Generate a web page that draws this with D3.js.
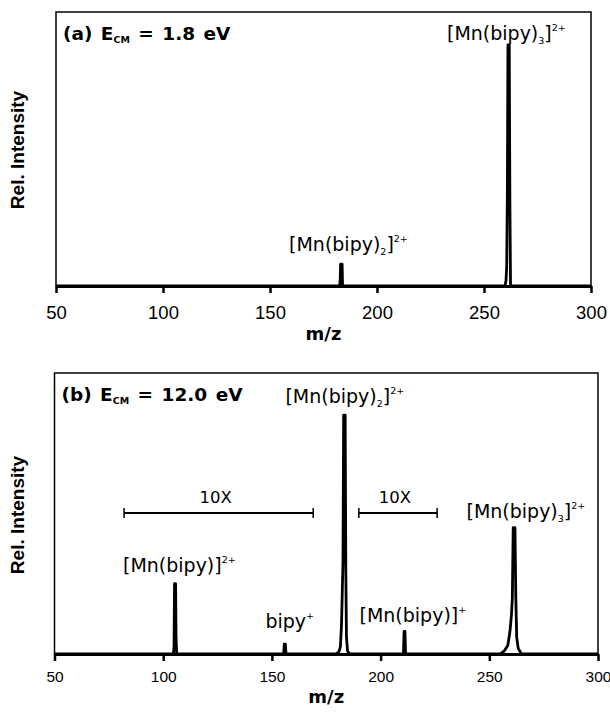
<!DOCTYPE html>
<html>
<head>
<meta charset="utf-8">
<script src="https://cdn.jsdelivr.net/npm/d3@7"></script>
<style>
  body { margin: 0; background: #fff; }
  svg { display: block; }
</style>
</head>
<body>
<svg id="chart" width="610" height="717"></svg>
<script>
// m/z ticks shared by both panels
const mzTicks = [50, 100, 150, 200, 250, 300];

// spectrum (a), E_CM = 1.8 eV : [m/z, rel. intensity %]
const spectrumA = [
  [50, 0], [182.5, 0], [182.8, 2], [183.0, 8], [183.7, 8], [183.9, 0],
  [259.8, 0], [260.3, 2], [260.6, 7], [260.9, 32], [261.2, 88], [261.8, 88],
  [262.1, 30], [262.4, 0], [300, 0]
];

// spectrum (b), E_CM = 12.0 eV
const spectrumB = [
  [50, 0], [104.7, 0], [105.0, 3], [105.2, 25], [105.7, 25], [105.9, 6], [106.2, 0],
  [155.4, 0], [155.7, 3.5], [156.2, 3.5], [156.5, 0],
  [179.5, 0], [180.8, 0.8], [181.5, 2.5], [182.0, 10], [182.4, 23], [182.7, 33],
  [183.0, 85], [183.7, 85], [184.0, 30], [184.3, 6], [184.8, 1], [185.8, 0],
  [210.5, 0], [210.8, 8], [211.2, 8], [211.5, 0],
  [255, 0], [256.8, 1], [258.5, 3], [259.5, 8], [260.2, 14], [260.6, 20],
  [261.0, 45], [261.8, 45], [262.2, 20], [262.6, 6], [263.3, 2], [264.8, 0],
  [300, 0]
];

// peak labels: text pieces + anchor (left m/z, baseline intensity)
const labelsA = [
  {base: "[Mn(bipy)", sub: "3", tail: "]", sup: "2+", mz: 232.7, level: 89.7},
  {base: "[Mn(bipy)", sub: "2", tail: "]", sup: "2+", mz: 158.9, level: 12.8}
];
const labelsB = [
  {base: "[Mn(bipy)", sub: "2", tail: "]", sup: "2+", mz: 156.2, level: 89.3},
  {base: "[Mn(bipy)", sub: "3", tail: "]", sup: "2+", mz: 239.5, level: 48.4},
  {base: "[Mn(bipy)]", sub: "", tail: "", sup: "2+", mz: 81.5, level: 29.2},
  {base: "bipy", sub: "", tail: "", sup: "+", mz: 147, level: 9.3},
  {base: "[Mn(bipy)]", sub: "", tail: "", sup: "+", mz: 190.3, level: 11.4}
];

// "10X" magnification ranges in panel (b)
const zoomRanges = [
  {from: 82, to: 169, level: 50.2, text: "10X"},
  {from: 190, to: 226, level: 50.2, text: "10X"}
];

const panelTitles = [
  {lead: "(a) E", sub: "CM", rest: " = 1.8 eV"},
  {lead: "(b) E", sub: "CM", rest: " = 12.0 eV"}
];

const svg = d3.select("#chart");

// panel geometry
const panels = [
  {left: 56, right: 591, top: 12, bottom: 286, tickFont: 18.5, tickPad: 13,
   xLabelY: 340, yLabelY: 150, data: spectrumA, labels: labelsA, title: panelTitles[0]},
  {left: 54.5, right: 598, top: 373, bottom: 654, tickFont: 15.5, tickPad: 10,
   xLabelY: 703, yLabelY: 515, data: spectrumB, labels: labelsB, title: panelTitles[1]}
];

const labelFont = "'DejaVu Sans', sans-serif";
const boldFont = "'DejaVu Sans', sans-serif";

panels.forEach((p, idx) => {
  let x = d3.scaleLinear().domain([50, 300]).range([p.left, p.right]);
  let y = d3.scaleLinear().domain([0, 100]).range([p.bottom, p.top]);

  let g = svg.append("g");

  // frame
  g.append("rect")
    .attr("x", p.left).attr("y", p.top)
    .attr("width", p.right - p.left).attr("height", p.bottom - p.top)
    .attr("fill", "none").attr("stroke", "#000").attr("stroke-width", 1.5);

  // x axis
  let axis = g.append("g")
    .attr("transform", `translate(0,${p.bottom})`)
    .call(d3.axisBottom(x).tickValues(mzTicks).tickSize(7).tickSizeOuter(0).tickPadding(p.tickPad));
  axis.select(".domain").attr("stroke-width", 3);
  axis.selectAll(".tick line").attr("stroke-width", 2.5);
  axis.selectAll(".tick text")
    .attr("font-family", "'Liberation Sans', Arial, sans-serif")
    .attr("font-size", p.tickFont)
    .attr("fill", "#000");

  // spectrum
  let line = d3.line().x(d => x(d[0])).y(d => y(d[1]));
  g.append("path")
    .attr("d", line(p.data))
    .attr("fill", "none").attr("stroke", "#000")
    .attr("stroke-width", 2.8).attr("stroke-linejoin", "round");

  // axis titles
  g.append("text")
    .attr("x", (p.left + p.right) / 2).attr("y", p.xLabelY)
    .attr("text-anchor", "middle")
    .attr("font-family", boldFont).attr("font-weight", "bold").attr("font-size", 18)
    .text("m/z");

  g.append("text")
    .attr("transform", `translate(24,${p.yLabelY}) rotate(-90)`)
    .attr("text-anchor", "middle")
    .attr("font-family", "'Liberation Sans', Arial, sans-serif").attr("font-weight", "bold").attr("font-size", 19)
    .text("Rel. Intensity");

  // panel title
  let t = g.append("text")
    .attr("x", p.left + 7).attr("y", p.top + 28)
    .attr("font-family", boldFont).attr("font-weight", "bold").attr("font-size", 18.5)
    .attr("word-spacing", 2);
  t.append("tspan").text(p.title.lead);
  t.append("tspan").attr("font-size", 9.5).attr("dy", 3).text(p.title.sub);
  t.append("tspan").attr("dy", -3).text(p.title.rest);

  // peak labels
  p.labels.forEach(l => {
    let txt = g.append("text")
      .attr("x", x(l.mz)).attr("y", y(l.level))
      .attr("font-family", labelFont).attr("font-size", 19);
    txt.append("tspan").text(l.base);
    if (l.sub) txt.append("tspan").attr("font-size", 9.5).attr("dy", 4).text(l.sub);
    if (l.tail) txt.append("tspan").attr("dy", l.sub ? -4 : 0).text(l.tail);
    txt.append("tspan").attr("font-size", 9.5).attr("dy", -9).text(l.sup);
  });

  // magnification brackets (panel b only)
  if (idx === 1) {
    zoomRanges.forEach(r => {
      let yy = y(r.level);
      g.append("line")
        .attr("x1", x(r.from)).attr("x2", x(r.to)).attr("y1", yy).attr("y2", yy)
        .attr("stroke", "#000").attr("stroke-width", 2);
      [r.from, r.to].forEach(v => {
        g.append("line")
          .attr("x1", x(v)).attr("x2", x(v)).attr("y1", yy - 5).attr("y2", yy + 5)
          .attr("stroke", "#000").attr("stroke-width", 1.5);
      });
      g.append("text")
        .attr("x", (x(r.from) + x(r.to)) / 2 - 3).attr("y", yy - 10)
        .attr("text-anchor", "middle")
        .attr("font-family", labelFont).attr("font-size", 16.5)
        .text(r.text);
    });
  }
});
</script>
</body>
</html>
